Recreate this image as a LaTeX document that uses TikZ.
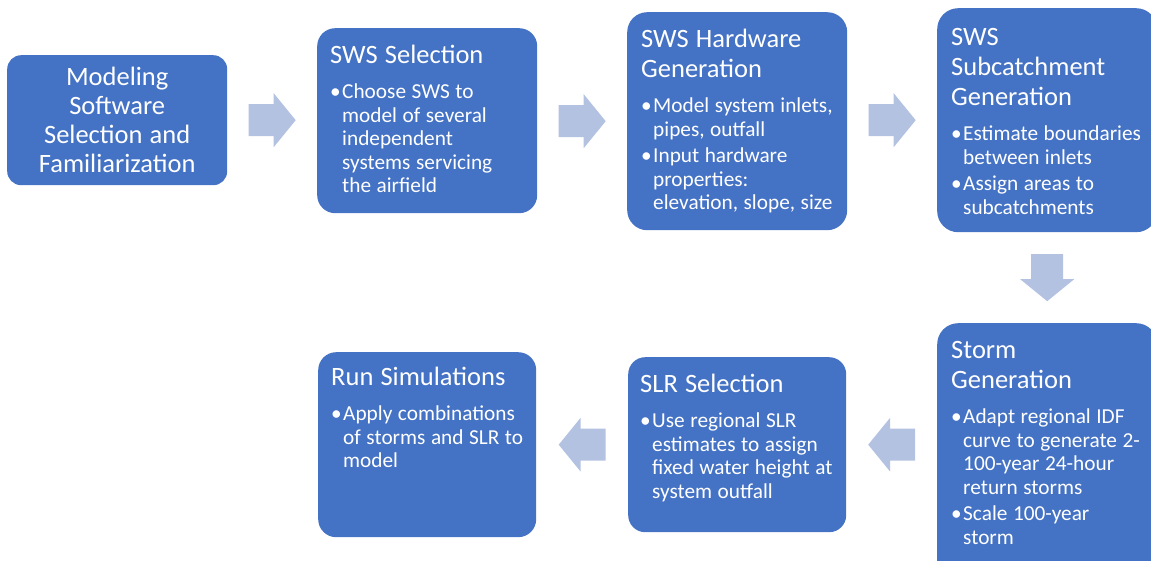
\documentclass[tikz,border=0pt]{standalone}
\usepackage{fontspec}
\setmainfont{Carlito}
\usetikzlibrary{calc}
\definecolor{boxblue}{HTML}{4472C4}
\definecolor{arrowblue}{HTML}{B4C2E2}
\newcommand{\titlefont}{\fontsize{26.5}{30}\selectfont\spaceskip=.27em\relax}
\newcommand{\modelfont}{\fontsize{26.5}{29}\selectfont\spaceskip=.27em\relax}
\newcommand{\bodyfont}{\fontsize{21.3}{23.5}\selectfont\spaceskip=.26em\relax}
\newcommand{\steptitle}[1]{{\titlefont\rule{0pt}{21pt}#1\par}\vspace{9pt}\bodyfont}
\newcommand{\stepitem}{\par\vspace{3pt}\hangindent=12pt\hangafter=1\noindent\makebox[12pt][l]{\textbullet}}
\tikzset{
  /tikz/.cd,
  stepbox/.style={fill=boxblue,anchor=north west,inner sep=0pt,minimum width=220pt},
  chev/.pic={\fill[arrowblue] (-23.5,-16) -- (1.5,-16) -- (1.5,-27) -- (23.5,0)
                              -- (1.5,27) -- (1.5,16) -- (-23.5,16) -- cycle;}
}

\begin{document}
\begin{tikzpicture}[x=1pt,y=-1pt,
                    steptext/.style={text=white,text width=212pt,align=left,inner sep=0pt,anchor=north west}]
  \useasboundingbox (0,0) rectangle (1151,561);
  \clip (0,0) rectangle (1151,561);

  \node[stepbox,minimum height=130pt,rounded corners=14pt] (model) at (7,55) {};
  \node[stepbox,minimum height=185pt,rounded corners=18pt] (swssel) at (317,28) {};
  \node[stepbox,minimum height=218pt,rounded corners=20pt] (hwgen) at (627,12) {};
  \node[stepbox,minimum height=224pt,rounded corners=21pt] (subgen) at (937,8) {};
  \node[stepbox,minimum height=260pt,rounded corners=21pt] (stormgen) at (937,323) {};
  \node[stepbox,minimum width=218pt,minimum height=175pt,rounded corners=17pt] (slrsel) at (628,357) {};
  \node[stepbox,minimum width=218pt,minimum height=185pt,rounded corners=18pt] (runsim) at (318,352) {};

  \node[text=white,align=center,font=\modelfont] (model-txt) at (model.center)
    {Modeling\\Software\\Selection and\\Familiarization};
  \node[steptext] (swssel-txt) at ($(swssel.north west)+(13,14)$)
    {\steptitle{SWS Selection}
     \stepitem Choose SWS to\newline model of several\newline independent\newline systems servicing\newline the airfield\par};
  \node[steptext] (hwgen-txt) at ($(hwgen.north west)+(14,14)$)
    {\steptitle{SWS Hardware\newline Generation}
     \stepitem Model system inlets,\newline pipes, outfall
     \stepitem Input hardware\newline properties:\newline elevation, slope, size\par};
  \node[steptext] (subgen-txt) at ($(subgen.north west)+(14,16)$)
    {\steptitle{SWS\newline Subcatchment\newline Generation}
     \stepitem Estimate boundaries\newline between inlets
     \stepitem Assign areas to\newline subcatchments\par};
  \node[steptext] (stormgen-txt) at ($(stormgen.north west)+(14,14)$)
    {\steptitle{Storm\newline Generation}
     \stepitem Adapt regional IDF\newline curve to generate 2-\newline 100-year 24-hour\newline return storms
     \stepitem Scale 100-year\newline storm\par};
  \node[steptext] (slrsel-txt) at ($(slrsel.north west)+(12,14)$)
    {\steptitle{SLR Selection}
     \stepitem Use regional SLR\newline estimates to assign\newline fixed water height at\newline system outfall\par};
  \node[steptext] (runsim-txt) at ($(runsim.north west)+(13,12)$)
    {\steptitle{Run Simulations}
     \stepitem Apply combinations\newline of storms and SLR to\newline model\par};

  \pic at ($(model.east)!.5!(swssel.west |- model.east)$) {chev};
  \pic at ($(swssel.east |- hwgen.east)!.5!(hwgen.west)$) {chev};
  \pic at ($(hwgen.east |- subgen.east)!.5!(subgen.west)$) {chev};
  \pic[rotate=-90] at ($(subgen.south)!.5!(stormgen.north)$) {chev};
  \pic[rotate=180] at ($(slrsel.east)!.5!(slrsel.east -| stormgen.west)$) {chev};
  \pic[rotate=180] at ($(runsim.east |- slrsel.west)!.5!(slrsel.west)$) {chev};
\end{tikzpicture}
\end{document}
